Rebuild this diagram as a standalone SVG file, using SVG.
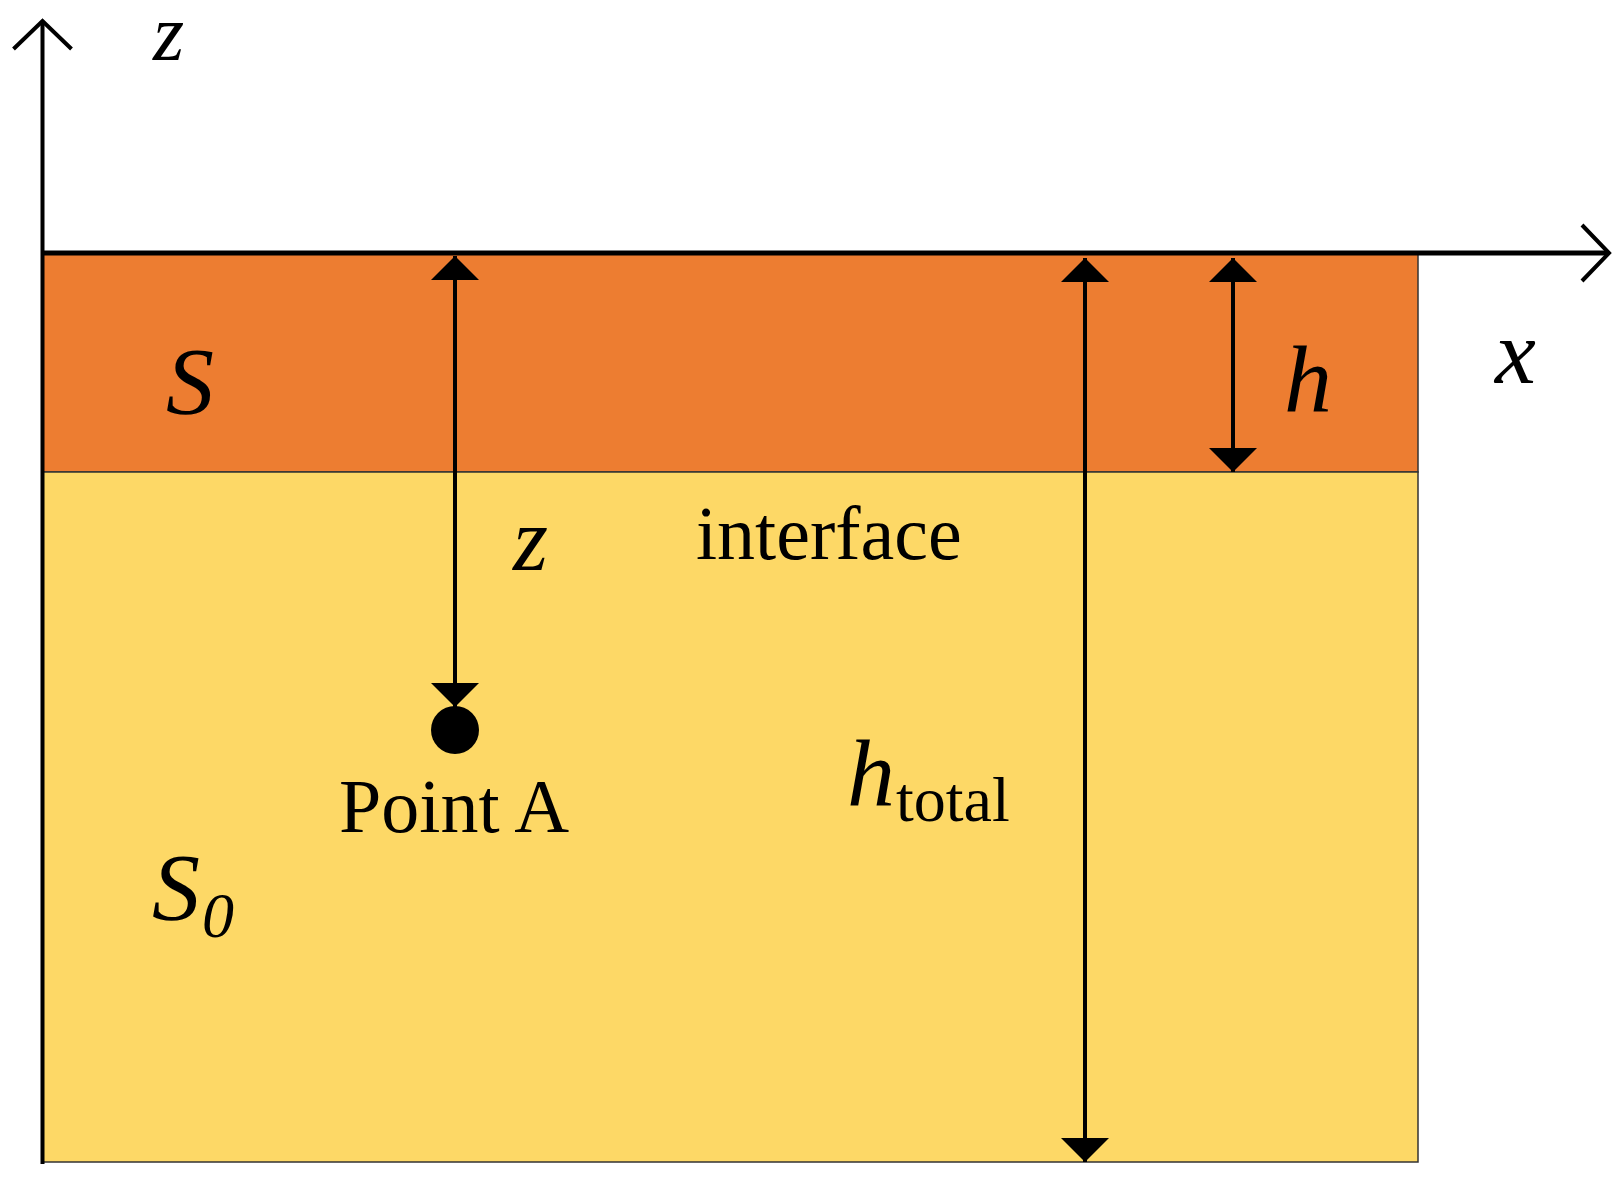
<svg xmlns="http://www.w3.org/2000/svg" width="1624" height="1184" viewBox="0 0 1624 1184">
<style>
.ln{stroke:#000;stroke-width:4;fill:none}
.it{font-family:"Liberation Serif",serif;font-style:italic;fill:#000}
.rm{font-family:"Liberation Serif",serif;fill:#000}
</style>
<defs>
<marker id="ah" viewBox="0 0 24 48" refX="24" refY="24" markerWidth="24" markerHeight="48" markerUnits="userSpaceOnUse" orient="auto-start-reverse"><path d="M0,0 L24,24 L0,48 Z" fill="#000"/></marker>
</defs>
<rect width="1624" height="1184" fill="#fff"/>
<g id="layerS"><rect x="43" y="254" width="1375" height="218" fill="#ED7D31" stroke="#333" stroke-width="1.5"/></g>
<g id="layerS0"><rect x="43" y="472" width="1375" height="690" fill="#FDD866" stroke="#333" stroke-width="1.5"/></g>
<g id="axes">
<line class="ln" x1="42.5" y1="1164" x2="42.5" y2="22"/>
<polyline class="ln" points="13.5,49 42.5,21 71.5,49"/>
<line class="ln" x1="42" y1="253" x2="1608" y2="253" style="stroke-width:5"/>
<polyline class="ln" points="1582,225 1609,253 1582,281"/>
</g>
<g id="connectors">
<line class="ln" x1="455" y1="256" x2="455" y2="707" marker-start="url(#ah)" marker-end="url(#ah)"/>
<line class="ln" x1="1085" y1="258" x2="1085" y2="1162" marker-start="url(#ah)" marker-end="url(#ah)"/>
<line class="ln" x1="1233" y1="258" x2="1233" y2="472" marker-start="url(#ah)" marker-end="url(#ah)"/>
</g>
<g id="pointA"><circle cx="455" cy="730" r="24" fill="#000"/>
<text class="rm" x="339" y="832" font-size="76">Point A</text></g>
<g id="labels">
<text class="it" x="153" y="60" font-size="80">z</text>
<text class="it" x="1495" y="383" font-size="92">x</text>
<text class="it" x="166" y="414" font-size="96">S</text>
<text class="it" x="1284" y="412" font-size="96">h</text>
<text class="it" x="513" y="570" font-size="90">z</text>
<text class="rm" x="696" y="559" font-size="76">interface</text>
<text class="it" x="847" y="806" font-size="96">h</text>
<text class="rm" x="896" y="821" font-size="64">total</text>
<text class="it" x="152" y="920" font-size="96">S</text>
<text class="it" x="202" y="937" font-size="64">0</text>
</g>
</svg>
